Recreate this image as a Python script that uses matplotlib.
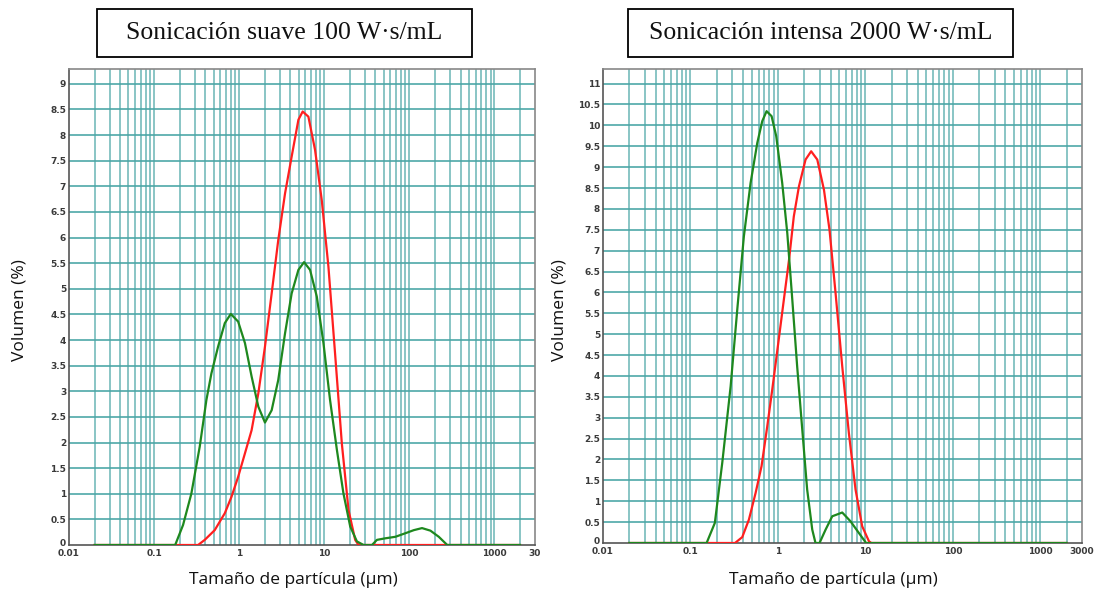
import matplotlib
matplotlib.use("Agg")
import matplotlib.pyplot as plt
from matplotlib.patches import Rectangle
from matplotlib.transforms import ScaledTranslation

# ---------------- data ----------------
titles = ["Sonicación suave 100 W·s/mL", "Sonicación intensa 2000 W·s/mL"]
xlabel = "Tamaño de partícula (µm)"
ylabel = "Volumen (%)"
xtick_vals = [0.01, 0.1, 1, 10, 100, 1000, 3000]
xtick_labels_left = ["0.01", "0.1", "1", "10", "100", "1000", "30"]
xtick_labels_right = ["0.01", "0.1", "1", "10", "100", "1000", "3000"]

# Left panel (soft sonication)
l_green_x = [0.02, 0.177, 0.219, 0.274, 0.344, 0.412, 0.472, 0.565, 0.678, 0.797, 0.973,
             1.17, 1.40, 1.68, 2.01, 2.41, 2.88, 3.46, 4.14, 4.97, 5.79, 6.81, 8.17,
             9.79, 11.7, 14.1, 16.8, 20.2, 24.2, 29.0, 36.4, 41.6, 52.0, 68.5, 90.0,
             113, 141, 177, 222, 279, 2000]
l_green_y = [0, 0, 0.39, 1.0, 1.92, 2.83, 3.35, 3.87, 4.33, 4.51, 4.36,
             3.94, 3.29, 2.70, 2.39, 2.63, 3.22, 4.13, 4.91, 5.37, 5.52, 5.37, 4.85,
             3.94, 2.83, 1.85, 1.01, 0.36, 0.07, 0.0, 0.0, 0.10, 0.13, 0.16, 0.23,
             0.29, 0.33, 0.28, 0.16, 0, 0]
l_red_x = [0.02, 0.329, 0.394, 0.516, 0.678, 0.812, 0.973, 1.17, 1.40, 1.68, 2.01, 2.41,
           2.88, 3.46, 4.14, 4.97, 5.58, 6.51, 7.80, 9.35, 11.2, 13.4, 16.1, 19.3,
           23.1, 25.3, 2000]
l_red_y = [0, 0, 0.10, 0.29, 0.62, 0.94, 1.33, 1.79, 2.24, 2.96, 3.87, 4.91,
           5.95, 6.86, 7.58, 8.30, 8.46, 8.36, 7.71, 6.73, 5.43, 3.74, 1.98, 0.68,
           0.10, 0, 0]

# Right panel (intense sonication)
r_green_x = [0.02, 0.153, 0.19, 0.231, 0.288, 0.343, 0.408, 0.487, 0.581, 0.662, 0.742,
             0.847, 0.957, 1.12, 1.28, 1.46, 1.66, 1.90, 2.16, 2.47, 2.69, 2.99, 3.51,
             4.18, 5.44, 6.76, 8.43, 10.2, 2000]
r_green_y = [0, 0, 0.48, 1.92, 3.75, 5.59, 7.34, 8.62, 9.58, 10.10, 10.34,
             10.22, 9.74, 8.62, 7.42, 5.83, 4.23, 2.71, 1.28, 0.32, 0, 0, 0.32,
             0.64, 0.73, 0.52, 0.24, 0, 0]
r_red_x = [0.02, 0.323, 0.391, 0.466, 0.556, 0.65, 0.755, 0.861, 1.01, 1.17, 1.34, 1.52,
           1.74, 2.07, 2.40, 2.82, 3.36, 3.89, 4.56, 5.44, 6.48, 7.72, 9.2, 11.0,
           11.7, 2000]
r_red_y = [0, 0, 0.14, 0.56, 1.20, 1.84, 2.79, 3.67, 4.79, 5.83, 6.78, 7.82,
           8.54, 9.18, 9.38, 9.18, 8.46, 7.50, 5.99, 4.23, 2.63, 1.28, 0.40, 0.04,
           0, 0]

# ---------------- figure ----------------
W, H = 1096, 594
fig = plt.figure(figsize=(W / 100, H / 100), dpi=100)
fig.patch.set_facecolor("white")

grid_col = "#4aa6a6"
red = "#ff1f1f"
green = "#1e881e"

def px_axes(l, t, r, b):
    return [l / W, 1 - b / H, (r - l) / W, (b - t) / H]

axes_specs = [
    dict(rect=px_axes(69, 69, 535, 545), ymax=9.29, yticks_max=9,
         green=(l_green_x, l_green_y), red=(l_red_x, l_red_y),
         xtl=xtick_labels_left),
    dict(rect=px_axes(603, 69, 1082, 543), ymax=11.35, yticks_max=11,
         green=(r_green_x, r_green_y), red=(r_red_x, r_red_y),
         xtl=xtick_labels_right),
]

minor_vals = []
for dec in [0.01, 0.1, 1, 10, 100, 1000]:
    for k in range(1, 10):
        v = dec * k
        if 0.01 < v <= 2000:
            minor_vals.append(v)

for spec in axes_specs:
    ax = fig.add_axes(spec["rect"])
    ax.set_xscale("log")
    ax.set_xlim(0.01, 2950)
    ax.set_ylim(0, spec["ymax"])
    for v in minor_vals:
        ax.axvline(v, color=grid_col, lw=1.3, alpha=0.7, zorder=1)
    yv = 0.5
    while yv <= spec["yticks_max"] + 1e-9:
        ax.axhline(yv, color=grid_col, lw=1.3, alpha=0.9, zorder=1)
        yv += 0.5
    ax.plot(*spec["red"], color=red, lw=1.6, zorder=3)
    ax.plot(*spec["green"], color=green, lw=1.6, zorder=4)

    yt = [i * 0.5 for i in range(int(spec["yticks_max"] * 2) + 1)]
    ax.set_yticks(yt)
    ax.set_yticklabels([("%g" % v) for v in yt])
    ax.set_xticks(xtick_vals)
    ax.set_xticklabels(spec["xtl"])
    ax.minorticks_off()
    ax.tick_params(axis="both", length=0, labelsize=6.5, labelcolor="#3a3a3a", pad=2)
    ax.tick_params(axis="x", pad=3)
    for t in ax.get_xticklabels() + ax.get_yticklabels():
        t.set_fontweight("bold")
    # lift the "0" y label a little so it does not collide with "0.01"
    zero_lbl = ax.get_yticklabels()[0]
    zero_lbl.set_transform(zero_lbl.get_transform()
                           + ScaledTranslation(0, 3 / 100, fig.dpi_scale_trans))
    for s in ax.spines.values():
        s.set_color("#888888")
        s.set_linewidth(1.2)
    ax.spines["left"].set_color("#555555")
    ax.spines["bottom"].set_color("#555555")

# axis labels
for xc in (293, 833):
    fig.text(xc / W, 1 - 580 / H, xlabel, ha="center", va="center", fontsize=12.5,
             family="Open Sans", color="#111111")
for xc in (20, 560):
    fig.text(xc / W, 1 - 310 / H, ylabel, ha="center", va="center", fontsize=12.5,
             rotation=90, family="Open Sans", color="#111111")

# title boxes
boxes = [(97, 9, 472, 57), (628, 9, 1013, 57)]
for (l, t, r, b), title in zip(boxes, titles):
    fig.patches.append(Rectangle((l / W, 1 - b / H), (r - l) / W, (b - t) / H,
                                 transform=fig.transFigure, fill=True,
                                 facecolor="white", edgecolor="black", lw=1.3))
    fig.text((l + r) / 2 / W, 1 - (t + b) / 2 / H, title, ha="center", va="center",
             fontsize=18.5, family="Liberation Serif", color="#111111")

fig.savefig("out.png", dpi=100)
